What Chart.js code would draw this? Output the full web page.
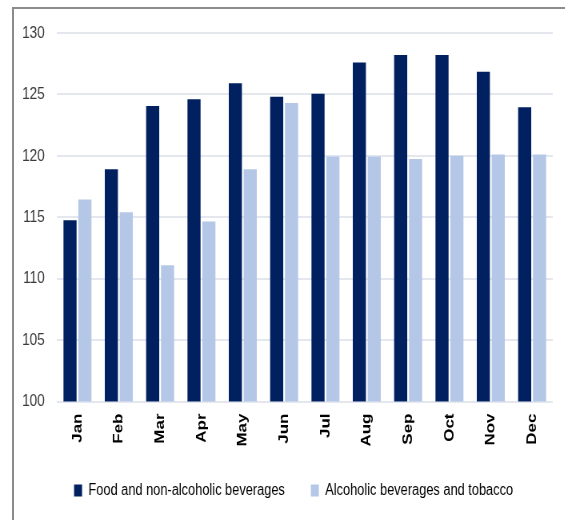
<!DOCTYPE html>
<html>
<head>
<meta charset="utf-8">
<script src="https://cdn.jsdelivr.net/npm/chart.js@4.4.1/dist/chart.umd.min.js"></script>
<style>
  html, body { margin: 0; padding: 0; background: #fff; overflow: hidden; }
  #wrap { position: relative; width: 565px; height: 520px; overflow: hidden; }
  #frame { position: absolute; left: 12px; top: 7px; right: -5px; bottom: -5px; border-left: 2px solid #8c8c8c; border-top: 2px solid #8c8c8c; pointer-events: none; }
  #c { position: absolute; left: 0; top: 0; transform: scaleX(0.8); transform-origin: 0 0; }
</style>
</head>
<body>
<div id="wrap">
  <canvas id="c" width="706" height="520"></canvas>
  <div id="frame"></div>
</div>
<script>
const months = ["Jan","Feb","Mar","Apr","May","Jun","Jul","Aug","Sep","Oct","Nov","Dec"];
const foodLabel = "Food and non-alcoholic beverages";
const alcoLabel = "Alcoholic beverages and tobacco";
const foodValues = [114.75, 118.9, 124.05, 124.6, 125.9, 124.8, 125.05, 127.6, 128.2, 128.2, 126.85, 123.95];
const alcoValues = [116.45, 115.4, 111.1, 114.65, 118.9, 124.3, 119.95, 119.95, 119.75, 120.0, 120.1, 120.1];
const yMin = 100, yMax = 130, yStep = 5;

const sans = "'Liberation Sans', Arial, sans-serif";

// shift the centred legend a little to the right, as in the reference
const legendShift = {
  id: 'legendShift',
  afterLayout(chart) {
    const lg = chart.legend;
    if (lg) { lg.left += 14; lg.right += 14; }
  }
};

new Chart(document.getElementById('c'), {
  type: 'bar',
  data: {
    labels: months,
    datasets: [
      { label: foodLabel, data: foodValues, backgroundColor: '#002060', categoryPercentage: 0.72, barPercentage: 0.88 },
      { label: alcoLabel, data: alcoValues, backgroundColor: '#B4C7E7', categoryPercentage: 0.72, barPercentage: 0.88 }
    ]
  },
  plugins: [legendShift],
  options: {
    responsive: false,
    animation: false,
    layout: { padding: { left: 15, right: 15, top: 33, bottom: 11.5 } },
    plugins: {
      tooltip: { enabled: false },
      legend: {
        position: 'bottom',
        labels: {
          boxWidth: 10, boxHeight: 12, padding: 32.5,
          color: '#000',
          font: { family: sans, size: 16 }
        }
      }
    },
    scales: {
      x: {
        grid: { display: false, drawTicks: false },
        border: { display: false },
        ticks: {
          maxRotation: 90, minRotation: 90, padding: 12,
          color: '#000',
          font: { family: sans, size: 17, weight: 'bold' }
        },
        afterFit: (s) => { s.height = 48.5; }
      },
      y: {
        min: yMin, max: yMax,
        grid: { color: '#E4E8EE', lineWidth: 2, drawTicks: false },
        border: { display: false },
        ticks: {
          stepSize: yStep, padding: 15,
          color: '#3a3a3a',
          font: { family: sans, size: 17 }
        },
        afterFit: (s) => { s.width = 56; }
      }
    }
  }
});
</script>
</body>
</html>
